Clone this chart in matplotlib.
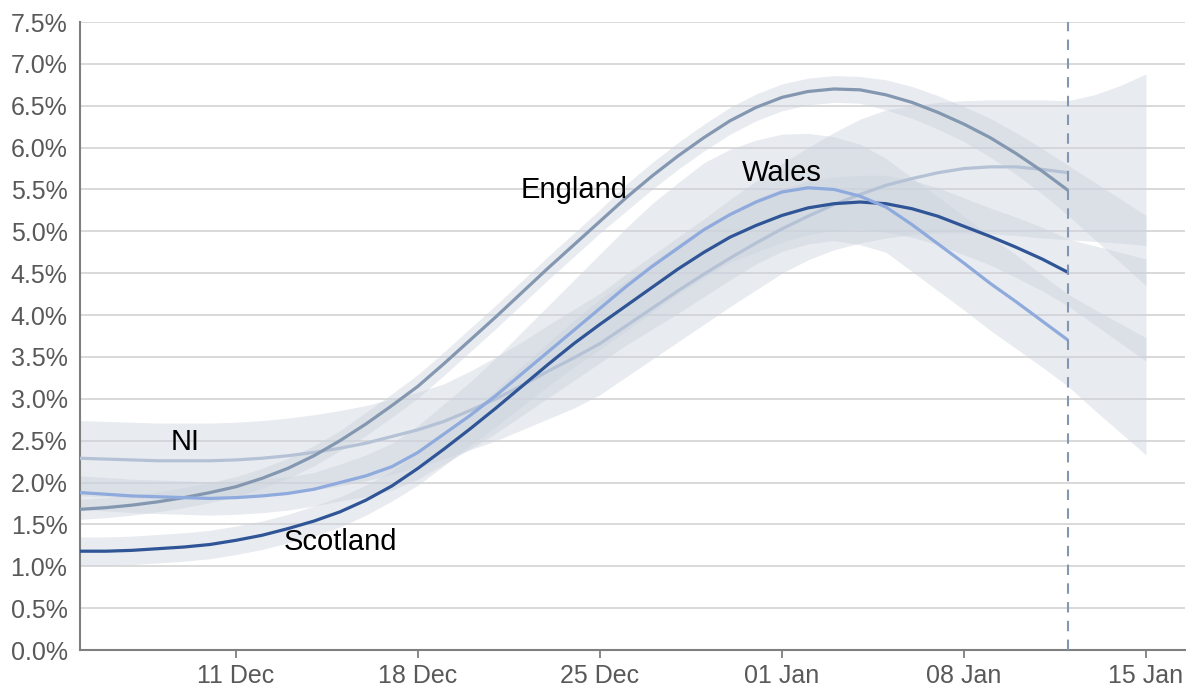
import datetime as dt
import numpy as np
import matplotlib
matplotlib.use("Agg")
import matplotlib.pyplot as plt
import matplotlib.dates as mdates

# Daily modelled positivity (%), 5 Dec 2021 onwards
start = dt.datetime(2021, 12, 5)
line_end = dt.datetime(2022, 1, 12)

england = [1.68, 1.70, 1.73, 1.77, 1.82, 1.88, 1.95, 2.05, 2.17, 2.32,
           2.50, 2.70, 2.92, 3.15, 3.42, 3.70, 3.98, 4.27, 4.56, 4.84,
           5.12, 5.40, 5.66, 5.90, 6.12, 6.32, 6.48, 6.60, 6.67, 6.70,
           6.69, 6.63, 6.54, 6.42, 6.28, 6.12, 5.93, 5.72, 5.49]
ni = [2.29, 2.28, 2.27, 2.26, 2.26, 2.26, 2.27, 2.29, 2.32, 2.36,
      2.41, 2.47, 2.55, 2.63, 2.73, 2.86, 3.00, 3.16, 3.33, 3.49,
      3.66, 3.87, 4.08, 4.29, 4.49, 4.68, 4.86, 5.03, 5.18, 5.32,
      5.44, 5.55, 5.63, 5.70, 5.75, 5.77, 5.77, 5.74, 5.70]
scotland = [1.18, 1.18, 1.19, 1.21, 1.23, 1.26, 1.31, 1.37, 1.45, 1.54,
            1.65, 1.79, 1.96, 2.17, 2.40, 2.64, 2.89, 3.15, 3.41, 3.66,
            3.89, 4.11, 4.33, 4.55, 4.75, 4.93, 5.07, 5.19, 5.28, 5.33,
            5.35, 5.33, 5.27, 5.18, 5.06, 4.94, 4.81, 4.67, 4.51]
wales = [1.88, 1.86, 1.84, 1.83, 1.82, 1.81, 1.82, 1.84, 1.87, 1.92,
         2.00, 2.08, 2.19, 2.36, 2.58, 2.80, 3.04, 3.30, 3.56, 3.82,
         4.08, 4.34, 4.58, 4.80, 5.02, 5.20, 5.35, 5.47, 5.52, 5.50,
         5.42, 5.29, 5.08, 4.85, 4.62, 4.38, 4.16, 3.93, 3.70]

# 95% credible intervals, 5 Dec 2021 to 15 Jan 2022
england_lo = [1.56, 1.58, 1.61, 1.65, 1.70, 1.76, 1.83, 1.93, 2.05, 2.20,
              2.38, 2.56, 2.78, 3.01, 3.28, 3.56, 3.84, 4.13, 4.42, 4.70,
              4.98, 5.24, 5.50, 5.74, 5.96, 6.16, 6.32, 6.44, 6.51, 6.54,
              6.53, 6.45, 6.35, 6.22, 6.07, 5.89, 5.68, 5.45, 5.19, 4.91,
              4.63, 4.35]
england_hi = [1.80, 1.82, 1.85, 1.89, 1.94, 2.00, 2.07, 2.17, 2.29, 2.44,
              2.62, 2.84, 3.06, 3.29, 3.56, 3.84, 4.12, 4.41, 4.70, 4.98,
              5.26, 5.56, 5.82, 6.06, 6.28, 6.48, 6.64, 6.76, 6.83, 6.86,
              6.85, 6.81, 6.73, 6.62, 6.49, 6.35, 6.18, 5.99, 5.79, 5.59,
              5.39, 5.19]
ni_lo = [1.84, 1.83, 1.82, 1.81, 1.81, 1.81, 1.82, 1.84, 1.87, 1.91,
         1.96, 2.02, 2.10, 2.18, 2.28, 2.39, 2.50, 2.63, 2.76, 2.89,
         3.05, 3.26, 3.47, 3.68, 3.89, 4.10, 4.30, 4.50, 4.66, 4.78,
         4.86, 4.92, 4.96, 4.98, 4.98, 4.97, 4.95, 4.92, 4.90, 4.88,
         4.86, 4.83]
ni_hi = [2.74, 2.73, 2.72, 2.71, 2.71, 2.71, 2.72, 2.74, 2.77, 2.81,
         2.86, 2.92, 3.00, 3.08, 3.18, 3.33, 3.50, 3.68, 3.88, 4.07,
         4.26, 4.49, 4.71, 4.93, 5.15, 5.38, 5.60, 5.81, 6.00, 6.18,
         6.34, 6.45, 6.50, 6.54, 6.56, 6.57, 6.57, 6.57, 6.56, 6.63,
         6.74, 6.88]
scotland_lo = [1.01, 1.01, 1.02, 1.04, 1.06, 1.09, 1.14, 1.20, 1.28, 1.36,
               1.47, 1.61, 1.78, 1.97, 2.20, 2.44, 2.67, 2.91, 3.15, 3.38,
               3.59, 3.81, 4.03, 4.25, 4.45, 4.63, 4.75, 4.87, 4.96, 5.01,
               5.03, 4.99, 4.93, 4.84, 4.72, 4.60, 4.45, 4.29, 4.11, 3.89,
               3.67, 3.45]
scotland_hi = [1.35, 1.35, 1.36, 1.38, 1.40, 1.43, 1.48, 1.54, 1.62, 1.72,
               1.83, 1.97, 2.14, 2.37, 2.60, 2.84, 3.11, 3.39, 3.67, 3.94,
               4.19, 4.41, 4.63, 4.85, 5.05, 5.23, 5.39, 5.51, 5.60, 5.65,
               5.67, 5.67, 5.61, 5.52, 5.40, 5.28, 5.17, 5.05, 4.91, 4.83,
               4.75, 4.67]
wales_lo = [1.68, 1.66, 1.64, 1.63, 1.62, 1.61, 1.62, 1.64, 1.67, 1.72,
            1.78, 1.83, 1.91, 2.04, 2.22, 2.40, 2.59, 2.80, 3.01, 3.22,
            3.43, 3.64, 3.83, 4.02, 4.22, 4.42, 4.61, 4.76, 4.85, 4.89,
            4.84, 4.75, 4.52, 4.29, 4.06, 3.82, 3.60, 3.38, 3.15, 2.87,
            2.60, 2.33]
wales_hi = [2.08, 2.06, 2.04, 2.03, 2.02, 2.01, 2.02, 2.04, 2.07, 2.12,
            2.22, 2.33, 2.47, 2.68, 2.94, 3.20, 3.49, 3.80, 4.11, 4.42,
            4.73, 5.04, 5.33, 5.58, 5.82, 5.98, 6.09, 6.16, 6.17, 6.13,
            6.04, 5.87, 5.64, 5.41, 5.18, 4.94, 4.72, 4.48, 4.25, 4.07,
            3.90, 3.73]

tick_dates = [dt.datetime(2021, 12, 11), dt.datetime(2021, 12, 18),
              dt.datetime(2021, 12, 25), dt.datetime(2022, 1, 1),
              dt.datetime(2022, 1, 8), dt.datetime(2022, 1, 15)]
y_ticks = [i * 0.5 for i in range(16)]

series = [
    ("NI", ni, ni_lo, ni_hi, "#b5c2d5"),
    ("England", england, england_lo, england_hi, "#8497b0"),
    ("Scotland", scotland, scotland_lo, scotland_hi, "#2f5597"),
    ("Wales", wales, wales_lo, wales_hi, "#8faadc"),
]
labels = {
    "England": (dt.datetime(2021, 12, 24, 0), 5.49),
    "Wales": (dt.datetime(2022, 1, 1, 0), 5.70),
    "NI": (dt.datetime(2021, 12, 9, 1), 2.49),
    "Scotland": (dt.datetime(2021, 12, 15, 0), 1.29),
}

plt.rcParams["font.family"] = ["Liberation Sans", "DejaVu Sans"]

fig = plt.figure(figsize=(11.92, 6.87), dpi=100)
ax = fig.add_axes([80 / 1192, 37 / 687, 1105 / 1192, 628 / 687])

band_days = [start + dt.timedelta(days=i) for i in range(len(ni_lo))]
line_days = [start + dt.timedelta(days=i) for i in range(len(ni))]

for name, vals, lo, hi, col in series:
    ax.fill_between(band_days, lo, hi, color="#cdd3de", alpha=0.45,
                    linewidth=0, zorder=2)
for name, vals, lo, hi, col in series:
    ax.plot(line_days, vals, color=col, linewidth=2.3,
            solid_capstyle="butt", solid_joinstyle="round", zorder=4)

ax.axvline(line_end, color="#8497b0", linewidth=1.5, dashes=(5, 4), zorder=5)

for name, (d, v) in labels.items():
    ax.text(d, v, name, fontsize=21, color="black", ha="center", va="center",
            zorder=6)

ax.set_ylim(0, 7.5)
ax.set_xlim(start, start + dt.timedelta(days=42.5))
ax.set_yticks(y_ticks)
ax.set_yticklabels([f"{t:.1f}%" for t in y_ticks])
ax.set_xticks(tick_dates)
ax.xaxis.set_major_formatter(mdates.DateFormatter("%d %b"))

ax.grid(axis="y", color="#d9d9d9", linewidth=1.4, zorder=0)
ax.set_axisbelow(True)
for s in ["top", "right"]:
    ax.spines[s].set_visible(False)
for s in ["left", "bottom"]:
    ax.spines[s].set_color("#7f7f7f")
    ax.spines[s].set_linewidth(1.5)
ax.tick_params(axis="y", length=0, pad=9, labelsize=18, labelcolor="#595959")
ax.tick_params(axis="x", length=6, width=1.3, color="#7f7f7f", pad=4,
               labelsize=18, labelcolor="#595959")

fig.savefig("out.png", dpi=100)
